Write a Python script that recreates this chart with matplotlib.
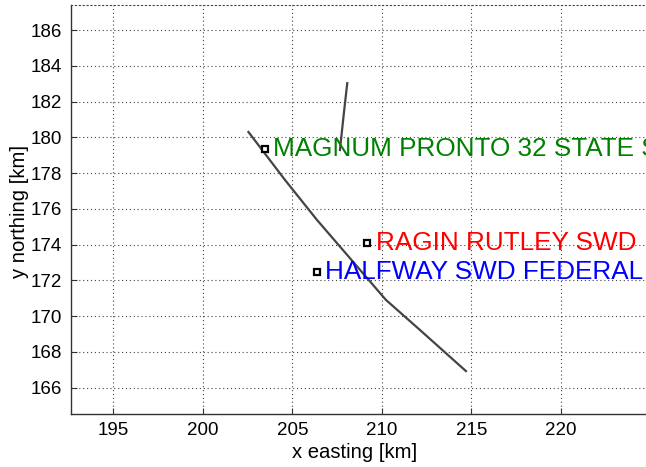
import matplotlib
matplotlib.use('Agg')
import matplotlib.pyplot as plt

plt.rcParams['font.family'] = ['Liberation Sans', 'DejaVu Sans']

# fault trace segments [km]
trace_x = [202.55, 204.59, 206.38, 210.23, 212.13, 214.70]
trace_y = [180.30, 177.62, 175.38, 170.91, 169.23, 166.93]
branch_x = [208.07, 207.87, 207.66]
branch_y = [183.03, 181.25, 179.29]

# wells
well_names = ['MAGNUM PRONTO 32 STATE SWD', 'RAGIN RUTLEY SWD', 'HALFWAY SWD FEDERAL']
well_x = [203.48, 209.19, 206.36]
well_y = [179.33, 174.11, 172.45]
well_colors = ['#008000', '#ff0000', '#0000ff']

xticks = [195, 200, 205, 210, 215, 220]
yticks = [166, 168, 170, 172, 174, 176, 178, 180, 182, 184, 186]

fig = plt.figure(figsize=(6.46, 4.67), dpi=100)
ax = fig.add_axes([70.7 / 646, 53 / 467, 597.5 / 646, 409 / 467])

ax.plot(trace_x, trace_y, color='#444444', lw=1.6)
ax.plot(branch_x, branch_y, color='#444444', lw=1.6)

for name, x, y, c in zip(well_names, well_x, well_y, well_colors):
    ax.plot(x, y, 's', ms=5, mfc='white', mec='black', mew=1.6)
    ax.annotate(name, (x, y), xytext=(6, 0), textcoords='offset points',
                color=c, fontsize=18.8, va='center', ha='left')

ax.set_xlim(192.62, 226.0)
ax.set_ylim(164.53, 187.4)
ax.set_xticks(xticks)
ax.set_yticks(yticks)
ax.tick_params(direction='in', length=4, labelsize=13.5, pad=6, color='#333333')
ax.grid(True, linestyle=(0, (1, 2.5)), color='#444444', lw=0.8)

for s in ['left', 'bottom']:
    ax.spines[s].set_color('#333333')
    ax.spines[s].set_linewidth(1.0)
ax.spines['right'].set_visible(False)
ax.spines['top'].set_linestyle((0, (1, 2.5)))
ax.spines['top'].set_color('#444444')
ax.spines['top'].set_linewidth(0.8)

fig.text(355 / 646, 1 - 452 / 467, 'x easting [km]', ha='center', va='center', fontsize=14.6)
fig.text(20 / 646, 1 - 211 / 467, 'y northing [km]', ha='center', va='center',
         rotation=90, fontsize=14.6)

fig.savefig('out.png', dpi=100)
